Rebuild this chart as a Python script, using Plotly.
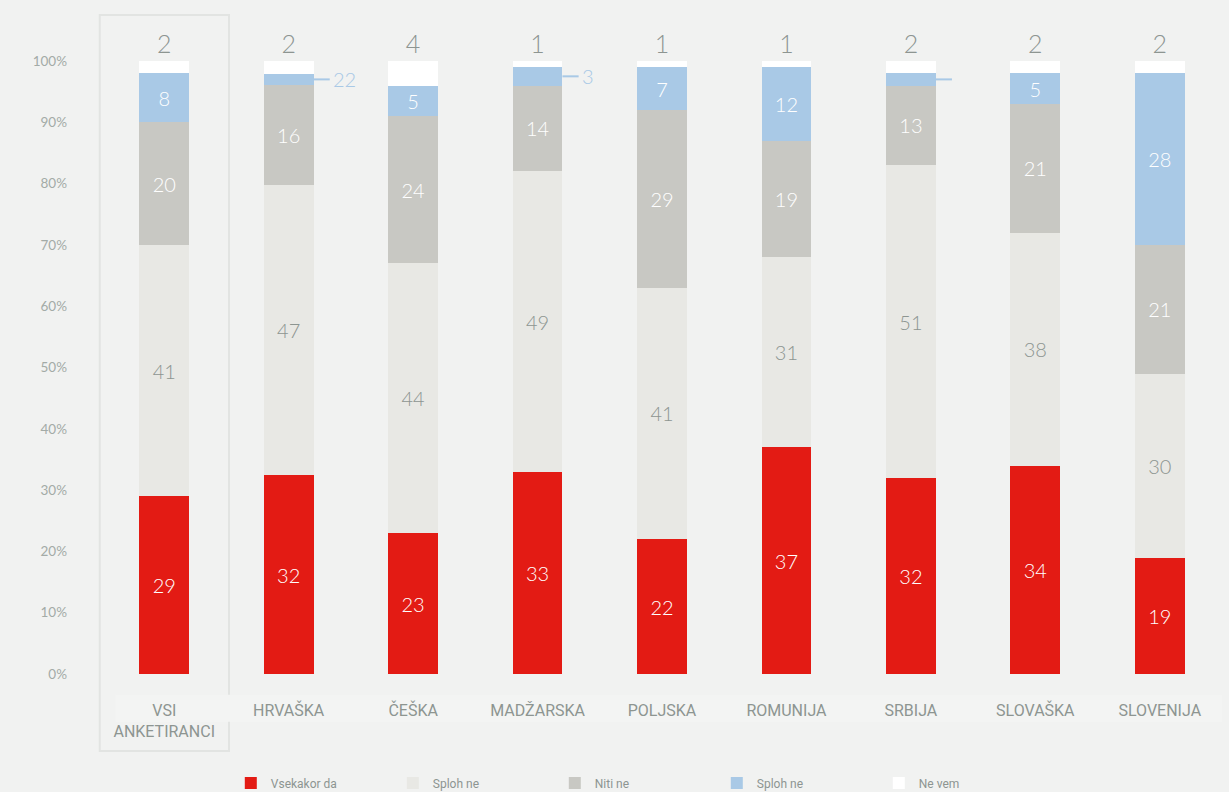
import plotly.graph_objects as go

categories = ["VSI<br>ANKETIRANCI", "HRVAŠKA", "ČEŠKA", "MADŽARSKA", "POLJSKA",
              "ROMUNIJA", "SRBIJA", "SLOVAŠKA", "SLOVENIJA"]
vsekakor_da = [29, 32.4, 23, 33, 22, 37, 32, 34, 19]
sploh_ne_1 = [41, 47.4, 44, 49, 41, 31, 51, 38, 30]
niti_ne = [20, 16.3, 24, 14, 29, 19, 13, 21, 21]
sploh_ne_2 = [8, 1.8, 5, 3, 7, 12, 2, 5, 28]
ne_vem = [2, 2.1, 4, 1, 1, 1, 2, 2, 2]
blue_labels = ["8", "22", "5", "3", "7", "12", "", "5", "28"]

series_names = ["Vsekakor da", "Sploh ne", "Niti ne", "Sploh ne", "Ne vem"]
colors = ["#e31b14", "#e8e8e4", "#c8c8c3", "#a9c9e6", "#ffffff"]

BG = "#f1f2f1"
GRAY_TXT = "#8d9591"
NUM_FONT = "Lato"
COND_FONT = "Liberation Sans Narrow, Roboto, sans-serif"

x = list(range(len(categories)))
fig = go.Figure()


def lbl(vals):
    return [str(int(round(v))) for v in vals]


def add_bar(vals, name, color, texts, txtcolor, pos="inside"):
    fig.add_trace(go.Bar(
        x=x, y=vals, name=name, marker=dict(color=color, line=dict(width=0)),
        width=0.4, text=texts, textposition=pos,
        insidetextanchor="middle", textangle=0, constraintext="none",
        insidetextfont=dict(family=NUM_FONT, size=20, color=txtcolor, weight=300),
        outsidetextfont=dict(family=NUM_FONT, size=25, color=GRAY_TXT, weight=300),
        cliponaxis=False, hoverinfo="skip", showlegend=True,
    ))


add_bar(vsekakor_da, series_names[0], colors[0], lbl(vsekakor_da), "white")
add_bar(sploh_ne_1, series_names[1], colors[1], lbl(sploh_ne_1), GRAY_TXT)
add_bar(niti_ne, series_names[2], colors[2], lbl(niti_ne), "white")
blue_inside = [t if v >= 4 else "" for v, t in zip(sploh_ne_2, blue_labels)]
add_bar(sploh_ne_2, series_names[3], colors[3], blue_inside, "white")
add_bar(ne_vem, series_names[4], colors[4], lbl(ne_vem), GRAY_TXT, pos="outside")

# external labels for thin blue segments
for i, (v, t) in enumerate(zip(sploh_ne_2, blue_labels)):
    if v < 4:
        ymid = vsekakor_da[i] + sploh_ne_1[i] + niti_ne[i] + v / 2
        fig.add_shape(type="line", x0=i + 0.2, x1=i + 0.33, y0=ymid, y1=ymid,
                      xref="x", yref="y", line=dict(color=colors[3], width=2))
        if t:
            fig.add_annotation(x=i + 0.33, y=ymid, xref="x", yref="y", text=t,
                               showarrow=False, xanchor="left", yanchor="middle",
                               xshift=1,
                               font=dict(family=NUM_FONT, size=20, color=colors[3], weight=300))

# highlight box around the first category
fig.add_shape(type="rect", xref="paper", yref="paper", x0=-0.002, x1=0.1134,
              y0=-0.1256, y1=1.075,
              line=dict(color="#e2e4e2", width=2), fillcolor="rgba(0,0,0,0)", layer="below")
# faint band behind category labels
fig.add_shape(type="rect", xref="paper", yref="paper", x0=0.012, x1=1.0,
              y0=-0.078, y1=-0.034,
              line=dict(width=0), fillcolor="#f3f4f3", layer="below")

fig.update_layout(
    barmode="stack",
    width=1229, height=792,
    paper_bgcolor=BG, plot_bgcolor=BG,
    margin=dict(l=102, r=7, t=61, b=118, autoexpand=False),
    bargap=0.6,
    xaxis=dict(
        tickmode="array", tickvals=x, ticktext=categories, range=[-0.5, 8.5],
        showgrid=False, zeroline=False, showline=False, ticks="",
        tickfont=dict(family=COND_FONT, size=16, color=GRAY_TXT),
        ticklabelstandoff=25, automargin=False,
    ),
    yaxis=dict(
        range=[0, 100], tickvals=list(range(0, 101, 10)),
        ticktext=[f"{v}%" for v in range(0, 101, 10)],
        showgrid=False, zeroline=False, showline=False, ticks="",
        tickfont=dict(family=NUM_FONT, size=13.5, color="#a3aba7"),
        ticklabelstandoff=34, automargin=False,
    ),
    legend=dict(
        orientation="h", x=0.115, xanchor="left", y=-0.178, yanchor="middle",
        font=dict(family=COND_FONT, size=12, color=GRAY_TXT),
        bgcolor="rgba(0,0,0,0)", entrywidth=117, traceorder="normal",
        itemclick=False, itemdoubleclick=False,
    ),
    showlegend=True,
)

fig.write_html("out.html", config={"displayModeBar": False},
               post_script="document.body.style.margin='0';document.body.style.background='%s';" % BG)
